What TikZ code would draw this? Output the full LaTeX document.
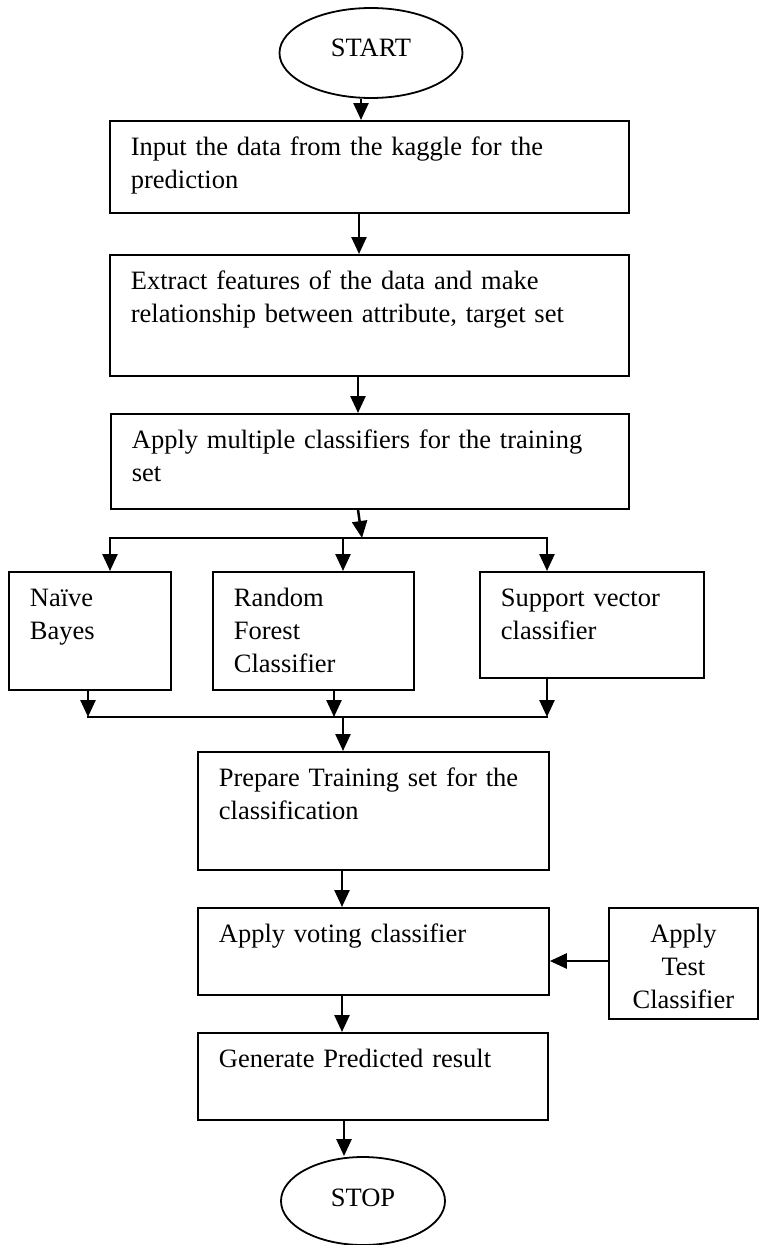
\documentclass[tikz,border=0pt]{standalone}
\usepackage{fontspec}
\setmainfont{Liberation Serif}
\usetikzlibrary{arrows.meta,shapes.geometric}
\begin{document}
\begin{tikzpicture}[x=1pt,y=-1pt,
  txt/.style={font=\fontsize{26.5}{33}\selectfont},
  box/.style={txt, draw, line width=1.8pt, anchor=north west, inner xsep=21pt, inner ysep=0pt, align=left, text height=35pt},
  term/.style={txt, draw, ellipse, line width=1.8pt, inner sep=0pt, text height=17.5pt},
  arr/.style={line width=2.5pt, -{Triangle[length=17pt,width=15pt]}},
  ln/.style={line width=2pt, line cap=rect}]
\useasboundingbox (0,0) rectangle (758,1245);

% terminals
\node[term, text depth=10pt, minimum width=183pt, minimum height=90pt] (start) at (371,53) {START};
\node[term, text depth=6pt, minimum width=164pt, minimum height=88pt] (stop) at (363,1201) {STOP};

% main boxes
\node[box, text width=477pt, text depth=57pt] (in) at (109,120)
  {Input the data from the kaggle for the\\prediction};
\node[box, text width=477pt, text depth=86pt] (ex) at (109,254)
  {Extract features of the data and make\\relationship between attribute, target set};
\node[box, text width=476pt, text depth=60pt] (ap) at (110,413)
  {Apply multiple classifiers for the training\\set};

% classifiers
\node[box, text width=120pt, text depth=83pt] (nb) at (8,571) {Naïve\\Bayes};
\node[box, text width=159pt, text depth=83pt] (rf) at (212,571) {Random\\Forest\\Classifier};
\node[box, text width=182pt, text depth=71pt] (sv) at (479,571) {Support vector\\classifier};

% lower boxes
\node[box, text width=309pt, text depth=83pt] (pr) at (197,751)
  {Prepare Training set for the\\classification};
\node[box, text width=309pt, text depth=52pt] (vo) at (197,907)
  {Apply voting classifier};
\node[box, text width=308pt, text depth=52pt] (ge) at (197,1032)
  {Generate Predicted result};
\node[box, inner xsep=10pt, text width=129pt, text depth=76pt, align=center] (te) at (608,907)
  {Apply\\Test\\Classifier};

% helper coordinates
\coordinate (xa) at (361,0);
\coordinate (xb) at (359,0);
\coordinate (xc) at (358,0);
\coordinate (j1) at (362,538);
\coordinate (jl) at (110,538);
\coordinate (jm) at (343,538);
\coordinate (jr) at (547,538);
\coordinate (ml) at (88,717);
\coordinate (mm) at (334,717);
\coordinate (mo) at (343,717);
\coordinate (mr) at (547,717);
\coordinate (xd) at (342,0);
\coordinate (xe) at (344,0);
\coordinate (yt) at (0,961);

% connectors
\draw[arr] (start.south -| xa) -- (in.north -| xa);
\draw[arr] (in.south -| xb) -- (ex.north -| xb);
\draw[arr] (ex.south -| xc) -- (ap.north -| xc);
\draw[arr] (ap.south -| xc) -- (j1);
\draw[ln] (jl) -- (jr);
\draw[arr] (jl) -- (nb.north -| jl);
\draw[arr] (jm) -- (rf.north -| jm);
\draw[arr] (jr) -- (sv.north -| jr);
\draw[arr] (nb.south -| ml) -- (ml);
\draw[arr] (rf.south -| mm) -- (mm);
\draw[arr] (sv.south -| mr) -- (mr);
\draw[ln] (ml) -- (mr);
\draw[arr] (mo) -- (pr.north -| mo);
\draw[arr] (pr.south -| xd) -- (vo.north -| xd);
\draw[arr] (te.west |- yt) -- (vo.east |- yt);
\draw[arr] (vo.south -| xd) -- (ge.north -| xd);
\draw[arr] (ge.south -| xe) -- (stop.north -| xe);
\end{tikzpicture}
\end{document}
